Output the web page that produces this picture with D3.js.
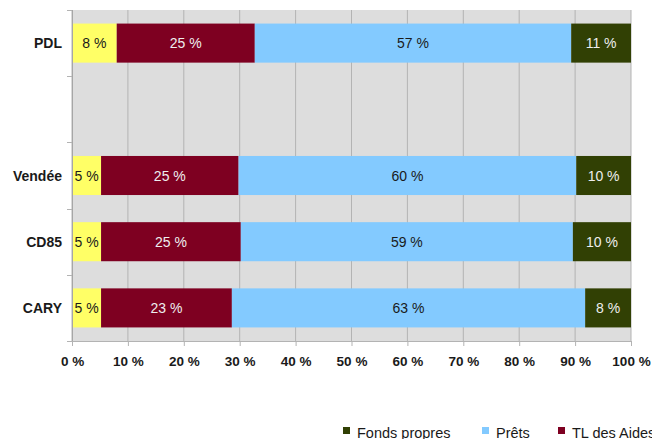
<!DOCTYPE html>
<html>
<head>
<meta charset="utf-8">
<script src="https://cdn.jsdelivr.net/npm/d3@7"></script>
<style>
  html, body { margin: 0; padding: 0; background: #ffffff; }
  svg { display: block; font-family: "Liberation Sans", Arial, sans-serif; }
</style>
</head>
<body>
<svg id="chart" width="652" height="439"></svg>
<script>
// Categories (second slot is a deliberate gap between PDL and the others)
const categories = ["PDL", "", "Vendée", "CD85", "CARY"];

// Shares (%) of each funding source, stacked left to right
const autres = [8.0, null, 5.2, 5.2, 5.2];
const aides  = [24.7, null, 24.6, 25.0, 23.4];
const prets  = [56.6, null, 60.4, 59.4, 63.2];
const fonds  = [10.7, null, 9.8, 10.4, 8.2];

const seriesKeys = ["autres", "aides", "prets", "fonds"];
const seriesColors = ["#ffff66", "#7e0021", "#83caff", "#314004"];
const labelColors = ["#1a1a1a", "#eeeeee", "#1a1a1a", "#eeeeee"];

const xTicks = [0, 10, 20, 30, 40, 50, 60, 70, 80, 90, 100];

// Legend entries (key into seriesKeys)
const legendKeys = ["fonds", "prets", "aides"];
const legendLabels = ["Fonds propres", "Prêts", "TL des Aides"];

const rows = categories.map((c, i) => ({
  cat: c,
  autres: autres[i], aides: aides[i], prets: prets[i], fonds: fonds[i]
}));

const svg = d3.select("#chart");
const margin = { top: 10, right: 21, bottom: 98, left: 72 };
const W = 652, H = 439;
const plotW = W - margin.left - margin.right;
const plotH = H - margin.top - margin.bottom;

const x = d3.scaleLinear().domain([0, 100]).range([margin.left, margin.left + plotW]);
const y = d3.scaleBand().domain(categories)
  .range([margin.top, margin.top + plotH])
  .paddingInner(0.41).paddingOuter(0.205);

const gridColor = "#b3b3b3";

// Plot background
svg.append("rect")
  .attr("x", x(0)).attr("y", margin.top)
  .attr("width", x(100) - x(0)).attr("height", plotH)
  .attr("fill", "#dddddd");

// Vertical grid lines
svg.append("g").selectAll("line").data(xTicks).join("line")
  .attr("x1", d => x(d)).attr("x2", d => x(d))
  .attr("y1", margin.top).attr("y2", margin.top + plotH)
  .attr("stroke", gridColor).attr("stroke-width", 1);

// Stacked bars
const stack = d3.stack().keys(seriesKeys).value((d, k) => d[k] || 0);
const stacked = stack(rows.filter(r => r.autres !== null));

const layers = svg.append("g").selectAll("g").data(stacked).join("g")
  .attr("fill", (d, i) => seriesColors[i]);

layers.selectAll("rect").data(d => d).join("rect")
  .attr("x", d => x(d[0]))
  .attr("width", d => x(d[1]) - x(d[0]))
  .attr("y", d => y(d.data.cat))
  .attr("height", y.bandwidth());

// Value labels centred in each segment
svg.append("g").selectAll("g").data(stacked).join("g")
  .attr("fill", (d, i) => labelColors[i])
  .selectAll("text").data(d => d).join("text")
  .attr("x", d => (x(d[0]) + x(d[1])) / 2)
  .attr("y", d => y(d.data.cat) + y.bandwidth() / 2)
  .attr("dy", "0.36em")
  .attr("text-anchor", "middle")
  .style("font-size", "14px")
  .text(d => Math.round(d[1] - d[0]) + " %");

// Bottom axis
const xAxis = d3.axisBottom(x).tickValues(xTicks)
  .tickFormat(d => d + " %").tickSize(5).tickPadding(10);
const gx = svg.append("g")
  .attr("transform", `translate(0,${margin.top + plotH})`)
  .call(xAxis);
gx.select(".domain").attr("stroke", gridColor).attr("d", `M${x(0) - 5},0.5H${x(100)}`);
gx.selectAll(".tick line").attr("stroke", gridColor);
gx.selectAll(".tick text")
  .attr("fill", "#1a1a1a")
  .style("font-size", "13.5px").style("font-weight", "bold")
  .style("font-family", "'Liberation Sans', Arial, sans-serif");

// Left axis: line, ticks at band boundaries, category labels
const half = y.step() / 2;
const boundaries = categories.map(c => y(c) + y.bandwidth() / 2 - half)
  .concat([y(categories[categories.length - 1]) + y.bandwidth() / 2 + half]);
const gy = svg.append("g");
gy.append("line")
  .attr("x1", x(0) + 0.5).attr("x2", x(0) + 0.5)
  .attr("y1", margin.top).attr("y2", margin.top + plotH)
  .attr("stroke", "#a6a6a6");
gy.selectAll("line.tk").data(boundaries).join("line").attr("class", "tk")
  .attr("x1", x(0) - 5).attr("x2", x(0))
  .attr("y1", d => Math.round(d) + 0.5).attr("y2", d => Math.round(d) + 0.5)
  .attr("stroke", gridColor);
gy.selectAll("text").data(categories.filter(c => c !== "")).join("text")
  .attr("x", x(0) - 10)
  .attr("y", c => y(c) + y.bandwidth() / 2)
  .attr("dy", "0.36em")
  .attr("text-anchor", "end")
  .attr("fill", "#1a1a1a")
  .style("font-size", "14px").style("font-weight", "bold")
  .text(c => c);

// Legend along the bottom edge
const legendX = [343, 482, 558];
const lg = svg.append("g").selectAll("g").data(legendKeys).join("g")
  .attr("transform", (k, i) => `translate(${legendX[i]},427)`);
lg.append("rect")
  .attr("width", 7).attr("height", 7)
  .attr("fill", k => seriesColors[seriesKeys.indexOf(k)]);
lg.append("text")
  .attr("x", 14).attr("y", 10.5)
  .attr("fill", "#1a1a1a")
  .style("font-size", "14.5px")
  .text((k, i) => legendLabels[i]);
</script>
</body>
</html>
